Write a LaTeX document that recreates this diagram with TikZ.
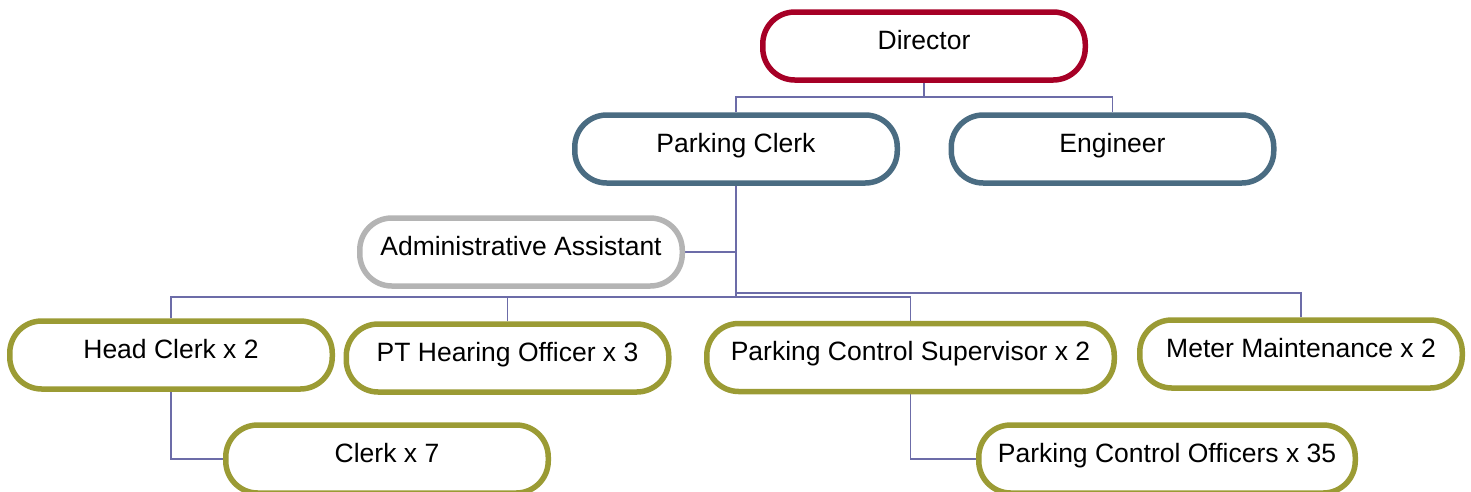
\documentclass[tikz,border=0pt]{standalone}
\usepackage{fontspec}
\setmainfont{Liberation Sans}
\usetikzlibrary{backgrounds}
\definecolor{dirred}{RGB}{166,0,38}
\definecolor{steel}{RGB}{74,108,130}
\definecolor{lgray}{RGB}{180,180,180}
\definecolor{olive}{RGB}{155,155,52}
\definecolor{connc}{RGB}{108,108,168}
\tikzset{
  box/.style={draw, fill=white, line width=5.5pt, rounded corners=32pt,
    minimum width=322.5pt, minimum height=68pt, inner sep=0pt,
    text height=20pt, text depth=14pt,
    font=\fontsize{26.5}{30}\selectfont, text=black},
  redbox/.style={box, draw=dirred},
  bluebox/.style={box, draw=steel},
  graybox/.style={box, draw=lgray},
  olivebox/.style={box, draw=olive},
  conn/.style={draw=connc, line width=1.6pt}
}
\begin{document}
\begin{tikzpicture}[x=1pt,y=-1pt]
\useasboundingbox (0,0) rectangle (1471,491);
\node[redbox] (dir) at (924,46) {Director};
\node[bluebox] (pc) at (736,149) {Parking Clerk};
\node[bluebox] (eng) at (1112.5,149) {Engineer};
\node[graybox] (aa) at (521,252) {Administrative Assistant};
\node[olivebox] (hc) at (171,355) {Head Clerk x 2};
\node[olivebox] (pt) at (507.5,358) {PT Hearing Officer x 3};
\node[olivebox, minimum width=407.5pt] (sup) at (910.5,357.5) {Parking Control Supervisor x 2};
\node[olivebox] (mm) at (1301,354) {Meter Maintenance x 2};
\node[olivebox] (c7) at (387,459) {Clerk x 7};
\node[olivebox, minimum width=376.5pt] (pco) at (1167,459) {Parking Control Officers x 35};
\coordinate (busA) at (924,97);
\coordinate (busL) at (736,297);
\coordinate (busR) at (736,293);
\begin{scope}[on background layer]
\draw[conn] (dir.south) -- (busA);
\draw[conn] (pc.north) |- (busA) -| (eng.north);
\draw[conn] (pc.south) -- (busL);
\draw[conn] (aa.east) -- (aa.east -| pc.south);
\draw[conn] (hc.north) |- (busL) -| (sup.north);
\draw[conn] (pt.north) -- (pt.north |- busL);
\draw[conn] (busR) -| (mm.north);
\draw[conn] (hc.south) |- (c7.west);
\draw[conn] (sup.south) |- (pco.west);
\end{scope}
\end{tikzpicture}
\end{document}
